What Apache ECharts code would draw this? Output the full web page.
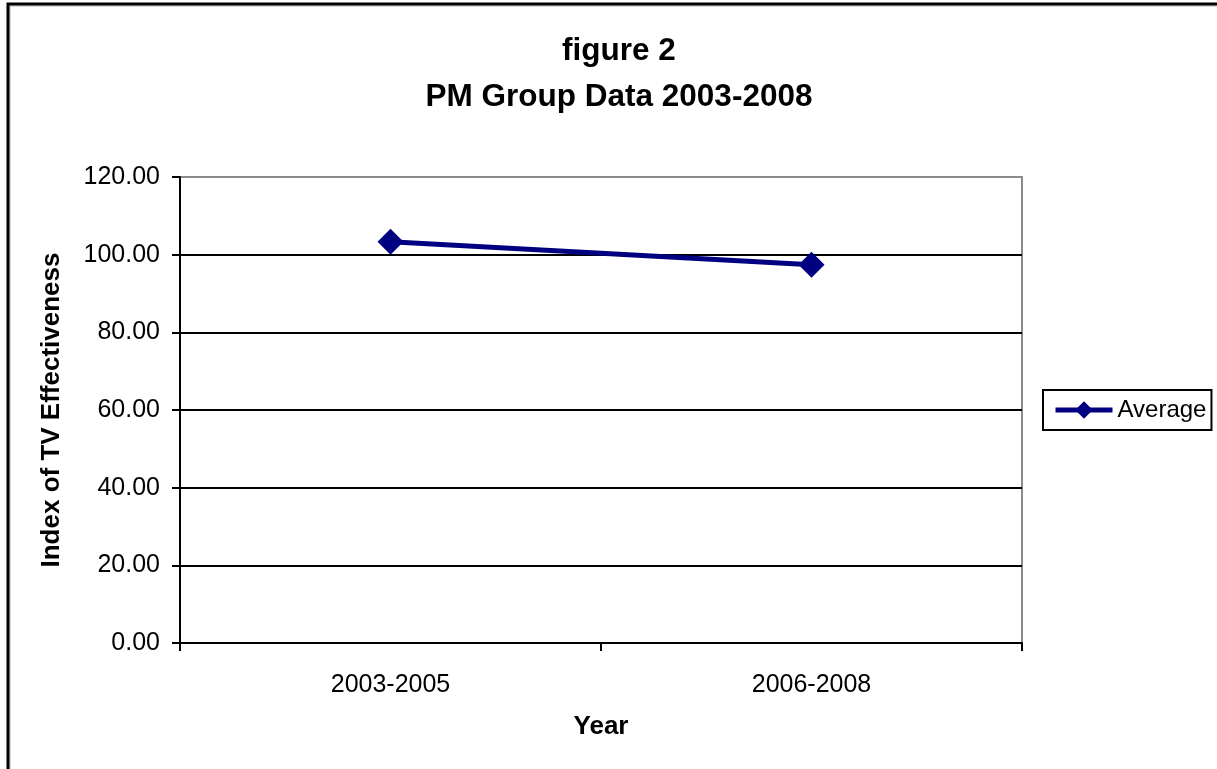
<!DOCTYPE html>
<html>
<head>
<meta charset="utf-8">
<script src="https://cdn.jsdelivr.net/npm/echarts@6/dist/echarts.min.js"></script>
<style>
  html, body { margin: 0; padding: 0; background: #fff; }
  #chart { width: 1217px; height: 769px; }
</style>
</head>
<body>
<div id="chart"></div>
<script>
// Periods on the x axis and the average index for each
const categories = ['2003-2005', '2006-2008'];
const averageValues = [103.3, 97.4];
const seriesName = 'Average';

const FONT = '"Liberation Sans", Arial, sans-serif';
const chart = echarts.init(document.getElementById('chart'));

chart.setOption({
  backgroundColor: '#ffffff',
  animation: false,
  title: {
    text: 'figure 2\nPM Group Data 2003-2008',
    left: 614,
    top: 23,
    textAlign: 'center',
    textStyle: {
      fontFamily: FONT,
      fontWeight: 'bold',
      fontSize: 31.5,
      lineHeight: 46,
      color: '#000'
    }
  },
  graphic: [
    // outer frame around the whole chart
    {
      type: 'rect',
      shape: { x: 10, y: 6, width: 1300, height: 900 },
      style: { fill: 'none', stroke: '#b0b0b0', lineWidth: 1 },
      silent: true
    },
    {
      type: 'rect',
      shape: { x: 8, y: 4, width: 1300, height: 900 },
      style: { fill: 'none', stroke: '#000', lineWidth: 3 },
      silent: true
    }
  ],
  legend: {
    data: [seriesName],
    left: 1043,
    top: 390,
    orient: 'vertical',
    padding: [8, 5, 8, 10],
    itemWidth: 57,
    itemHeight: 22,
    itemGap: 0,
    borderColor: '#000',
    borderWidth: 2,
    lineStyle: { width: 5, color: '#000080' },
    itemStyle: { color: '#000080' },
    textStyle: { fontFamily: FONT, fontSize: 24, color: '#000' }
  },
  grid: {
    left: 180,
    top: 177,
    right: 195,
    bottom: 126,
    show: true,
    borderColor: '#8c8c8c',
    borderWidth: 2,
    containLabel: false
  },
  xAxis: {
    type: 'category',
    data: categories,
    boundaryGap: true,
    name: 'Year',
    nameLocation: 'middle',
    nameGap: 71,
    nameTextStyle: { fontFamily: FONT, fontWeight: 'bold', fontSize: 26, color: '#000' },
    axisLine: { lineStyle: { color: '#000', width: 2 } },
    axisTick: { show: true, length: 8, lineStyle: { color: '#000', width: 2 } },
    axisLabel: { fontFamily: FONT, fontSize: 25, color: '#000', margin: 30 },
    splitLine: { show: false }
  },
  yAxis: {
    type: 'value',
    min: 0,
    max: 120,
    interval: 20,
    name: 'Index of TV Effectiveness',
    nameLocation: 'middle',
    nameGap: 115,
    nameTextStyle: { fontFamily: FONT, fontWeight: 'bold', fontSize: 26, color: '#000' },
    axisLine: { show: true, lineStyle: { color: '#000', width: 2 } },
    axisTick: { show: true, length: 8, lineStyle: { color: '#000', width: 2 } },
    axisLabel: {
      fontFamily: FONT, fontSize: 25, color: '#000', margin: 20,
      formatter: v => v.toFixed(2)
    },
    splitLine: {
      show: true,
      showMinLine: false,
      showMaxLine: false,
      lineStyle: { color: '#000', width: 2 }
    }
  },
  series: [{
    name: seriesName,
    type: 'line',
    data: averageValues,
    symbol: 'diamond',
    symbolSize: 26,
    lineStyle: { color: '#000080', width: 5 },
    itemStyle: { color: '#000080' }
  }]
});
</script>
</body>
</html>
